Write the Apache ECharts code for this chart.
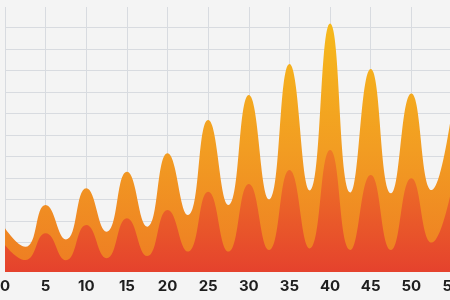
<!DOCTYPE html>
<html><head><meta charset="utf-8">
<script src="https://cdn.jsdelivr.net/npm/echarts@6/dist/echarts.min.js"></script>
<style>html,body{margin:0;padding:0;background:#f4f4f4;}#c{width:450px;height:300px;}</style>
</head><body><div id="c"></div>
<script>
var xs = [0,2.5,5,7.5,10,12.5,15,17.5,20,22.5,25,27.5,30,32.5,35,37.5,40,42.5,45,47.5,50,52.5,55];
var upperTotal = [16.5,9.5,25.3,12.3,31.6,15.2,37.8,17.1,44.8,21.5,57.4,25.3,66.8,27.4,78.5,30.8,93.8,30.0,76.6,29.7,67.4,30.9,61];
var lowerBand = [10.2,4.5,14.6,4.4,17.7,5.2,20.3,6.0,23.4,7.7,30.3,7.7,33.2,8.3,38.5,8.9,46.0,8.3,36.6,8.3,35.4,11.1,32];
var xTicks = [0,5,10,15,20,25,30,35,40,45,50,55];

function pairs(v){ return xs.map(function(x,i){ return [x, v[i]]; }); }

var chart = echarts.init(document.getElementById('c'), null, {renderer:'canvas'});
chart.setOption({
  backgroundColor: '#f4f4f4',
  animation: false,
  grid: [
    {left: 5, right: -2, top: 7, bottom: 28, containLabel:false, outerBoundsMode:'none'},
    {left: 5, right: -2, top: 27.3, bottom: 36.2, containLabel:false, outerBoundsMode:'none'}
  ],
  xAxis: [
    {type:'value', gridIndex:0, min:0, max:55, interval:5,
     axisLine:{show:false}, axisTick:{show:false},
     axisLabel:{show:true, margin:7, fontSize:15, fontWeight:'bold', color:'#1e1e1e', fontFamily:'Inter, "DejaVu Sans", sans-serif',
       hideOverlap:false,
       formatter:function(v){ return xTicks.indexOf(v) >= 0 ? String(v) : ''; }},
     splitLine:{show:true, lineStyle:{color:'#d8dbe0', width:1}}},
    {type:'value', gridIndex:1, min:0, max:55, show:false}
  ],
  yAxis: [
    {type:'value', gridIndex:0, min:0, max:100, show:false, splitLine:{show:false}},
    {type:'value', gridIndex:1, min:0, max:11, interval:1, axisLine:{show:false}, axisTick:{show:false}, axisLabel:{show:false},
     splitLine:{show:true, lineStyle:{color:'#d8dbe0', width:1}}}
  ],
  series: [
    {type:'line', xAxisIndex:0, yAxisIndex:0, data: pairs(upperTotal), smooth:0.5, showSymbol:false,
     lineStyle:{width:0}, z:3,
     areaStyle:{opacity:1, color:new echarts.graphic.LinearGradient(0,0,0,1,[
       {offset:0,color:'#f6b91b'},{offset:0.5,color:'#f29d22'},{offset:1,color:'#ee7c23'}])}},
    {type:'line', xAxisIndex:0, yAxisIndex:0, data: pairs(lowerBand), smooth:0.5, showSymbol:false,
     lineStyle:{width:0}, z:4,
     areaStyle:{opacity:1, color:new echarts.graphic.LinearGradient(0,0,0,1,[
       {offset:0,color:'#ef7a25'},{offset:1,color:'#e5422d'}])}}
  ]
});
</script></body></html>
